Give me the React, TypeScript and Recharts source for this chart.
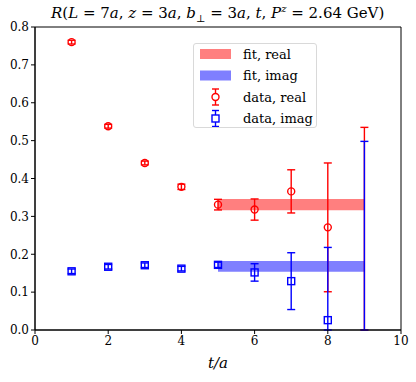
import React from 'react';
import {
  ScatterChart,
  Scatter,
  XAxis,
  YAxis,
  ErrorBar,
  ReferenceArea,
} from 'recharts';

const tValues = [1, 2, 3, 4, 5, 6, 7, 8, 9];
const realValues = [0.76, 0.538, 0.441, 0.378, 0.331, 0.318, 0.366, 0.271, -0.05];
const realErrors = [0.005, 0.005, 0.005, 0.007, 0.014, 0.028, 0.057, 0.17, 0.585];
const imagValues = [0.155, 0.167, 0.171, 0.162, 0.172, 0.152, 0.129, 0.026, -0.15];
const imagErrors = [0.006, 0.006, 0.006, 0.006, 0.007, 0.023, 0.075, 0.192, 0.648];

const fitRange = [5, 9];
const fitReal = { center: 0.331, err: 0.015 };
const fitImag = { center: 0.168, err: 0.014 };

const xTicks = [0, 2, 4, 6, 8, 10];
const yTicks = [0, 0.1, 0.2, 0.3, 0.4, 0.5, 0.6, 0.7, 0.8];
const yDomain = [0, 0.8];

// error bars are cut at the bottom of the axis like in matplotlib
const clipErr = (d: any) => {
  const p = d.payload ?? d;
  return [Math.min(p.err, p.y - yDomain[0]), p.err];
};

const realData = tValues.map((t, i) => ({ t, y: realValues[i], err: realErrors[i] }));
const imagData = tValues.map((t, i) => ({ t, y: imagValues[i], err: imagErrors[i] }));

const RED = '#ff0000';
const BLUE = '#0000ff';
const FONT = 'DejaVu Serif';

const Circle = (props: any) =>
  props.payload.y < yDomain[0] ? null : (
    <circle cx={props.cx} cy={props.cy} r={3.5} fill="none" stroke={RED} strokeWidth={1.4} />
  );
const Square = (props: any) =>
  props.payload.y < yDomain[0] ? null : (
    <rect x={props.cx - 3.5} y={props.cy - 3.5} width={7} height={7} fill="none" stroke={BLUE} strokeWidth={1.4} />
  );

const tickStyle = { fontFamily: FONT, fontSize: 12, fill: '#000' };

const LegendBox = () => {
  const row = (i: number) => 10 + i * 21.5;
  return (
    <div
      style={{
        position: 'absolute',
        left: 193,
        top: 43,
        width: 124,
        height: 85,
        border: '1px solid #d9d9d9',
        borderRadius: 3,
        background: 'rgba(255,255,255,0.8)',
        boxSizing: 'border-box',
      }}
    >
      <svg width={122} height={83} style={{ position: 'absolute', left: 0, top: 0 }}>
        <rect x={6} y={row(0) - 5} width={31} height={10} fill={RED} fillOpacity={0.5} />
        <rect x={6} y={row(1) - 5} width={31} height={10} fill={BLUE} fillOpacity={0.5} />
        {[RED, BLUE].map((c, i) => {
          const cy = row(2 + i);
          return (
            <g key={c} stroke={c} strokeWidth={1.4} fill="none">
              <line x1={21.5} x2={21.5} y1={cy - 8} y2={cy + 8} />
              <line x1={18} x2={25} y1={cy - 8} y2={cy - 8} />
              <line x1={18} x2={25} y1={cy + 8} y2={cy + 8} />
              {i === 0 ? (
                <circle cx={21.5} cy={cy} r={3.5} fill="#fff" />
              ) : (
                <rect x={18} y={cy - 3.5} width={7} height={7} fill="#fff" />
              )}
            </g>
          );
        })}
        {['fit, real', 'fit, imag', 'data, real', 'data, imag'].map((s, i) => (
          <text key={s} x={49} y={row(i) + 4.5} fontFamily={FONT} fontSize={13} fill="#000">
            {s}
          </text>
        ))}
      </svg>
    </div>
  );
};

export default function App() {
  return (
    <div style={{ position: 'absolute', left: 0, top: 0, width: 416, height: 382, background: '#fff' }}>
      <div
        style={{
          position: 'absolute',
          left: 51,
          top: 3,
          fontFamily: FONT,
          fontSize: 15,
          whiteSpace: 'nowrap',
        }}
      >
        <i>R</i>(<i>L</i> = 7<i>a</i>, <i>z</i> = 3<i>a</i>, <i>b</i>
        <sub style={{ fontSize: 10 }}>⊥</sub> = 3<i>a</i>, <i>t</i>, <i>P</i>
        <sup style={{ fontSize: 10, fontStyle: 'italic' }}>z</sup> = 2.64 GeV)
      </div>
      <ScatterChart width={416} height={382} margin={{ top: 27, right: 15, bottom: 0, left: 0 }}>
        <XAxis
          type="number"
          dataKey="t"
          domain={[0, 10]}
          ticks={xTicks}
          height={52}
          tickSize={4}
          tick={tickStyle}
          stroke="#000"
          tickLine={{ stroke: '#000' }}
          label={{ value: 't/a', position: 'insideBottom', offset: 14, style: { fontFamily: FONT, fontSize: 15, fontStyle: 'italic', fill: '#000' } }}
        />
        <YAxis
          type="number"
          dataKey="y"
          domain={yDomain}
          allowDataOverflow
          ticks={yTicks}
          width={35}
          tickSize={4}
          tick={tickStyle}
          tickFormatter={(v: number) => v.toFixed(1)}
          stroke="#000"
          tickLine={{ stroke: '#000' }}
        />
        <ReferenceArea
          x1={fitRange[0]}
          x2={fitRange[1]}
          y1={fitReal.center - fitReal.err}
          y2={fitReal.center + fitReal.err}
          fill={RED}
          fillOpacity={0.5}
          stroke="none"
        />
        <ReferenceArea
          x1={fitRange[0]}
          x2={fitRange[1]}
          y1={fitImag.center - fitImag.err}
          y2={fitImag.center + fitImag.err}
          fill={BLUE}
          fillOpacity={0.5}
          stroke="none"
        />
        <Scatter data={realData} dataKey="y" shape={Circle} isAnimationActive={false}>
          <ErrorBar dataKey={clipErr} direction="y" width={4} stroke={RED} strokeWidth={1.4} />
        </Scatter>
        <Scatter data={imagData} dataKey="y" shape={Square} isAnimationActive={false}>
          <ErrorBar dataKey={clipErr} direction="y" width={4} stroke={BLUE} strokeWidth={1.4} />
        </Scatter>
        <ReferenceArea x1={0} x2={10} y1={0} y2={0.8} fill="none" stroke="#000" strokeWidth={1} />
      </ScatterChart>
      <LegendBox />
    </div>
  );
}
